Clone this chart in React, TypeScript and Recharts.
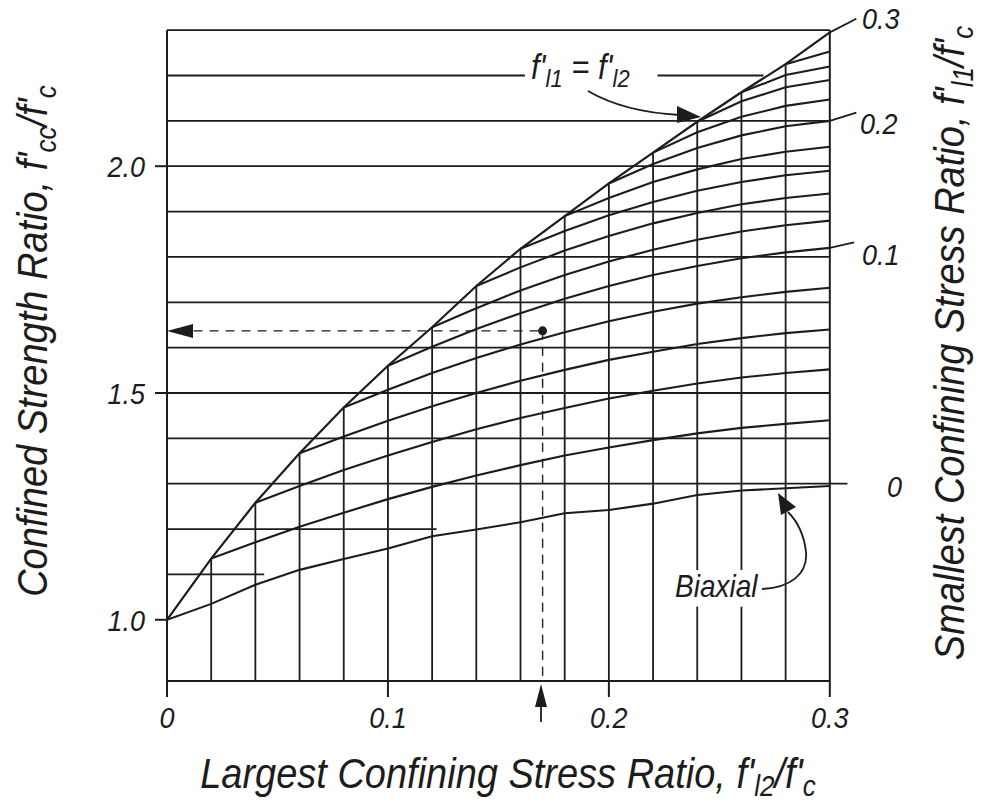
import React from 'react';
import { LineChart, Line, XAxis, YAxis, ReferenceLine, ReferenceDot } from 'recharts';

const FONT = '"Liberation Sans", Arial, Helvetica, sans-serif';
const INK = '#1c1c1c';
const STRETCH = 1.12;

// largest confining stress ratio f'l2/f'c at each vertical rule
const fl2 = [0, 0.02, 0.04, 0.06, 0.08, 0.1, 0.12, 0.14, 0.16, 0.18, 0.2, 0.22, 0.24, 0.26, 0.28, 0.3];

// f'l1 = f'l2 (triaxial, equal confinement)
const equalConfinement = [1.0, 1.135, 1.258, 1.367, 1.468, 1.56, 1.645, 1.736, 1.818, 1.89, 1.962, 2.03, 2.098, 2.163, 2.225, 2.295];
// f'l1 = 0
const biaxial = [1.0, 1.035, 1.077, 1.11, 1.134, 1.157, 1.184, 1.199, 1.215, 1.235, 1.242, 1.256, 1.275, 1.285, 1.29, 1.295];

// one curve per smallest confining stress ratio, each starting at f'l2 = f'l1
const fl1_002 = [1.135, 1.171, 1.205, 1.236, 1.266, 1.293, 1.318, 1.341, 1.362, 1.38, 1.396, 1.411, 1.423, 1.432, 1.44];
const fl1_004 = [1.258, 1.295, 1.33, 1.362, 1.392, 1.42, 1.445, 1.467, 1.488, 1.505, 1.521, 1.534, 1.544, 1.552];
const fl1_006 = [1.367, 1.404, 1.439, 1.471, 1.5, 1.527, 1.551, 1.573, 1.591, 1.608, 1.621, 1.632, 1.64];
const fl1_008 = [1.468, 1.507, 1.544, 1.577, 1.607, 1.634, 1.658, 1.679, 1.697, 1.711, 1.723, 1.732];
const fl1_010 = [1.56, 1.602, 1.641, 1.676, 1.708, 1.736, 1.76, 1.78, 1.797, 1.81, 1.82];
const fl1_012 = [1.645, 1.687, 1.726, 1.76, 1.79, 1.816, 1.838, 1.856, 1.87, 1.88];
const fl1_014 = [1.736, 1.777, 1.814, 1.846, 1.874, 1.897, 1.916, 1.93, 1.94];
const fl1_016 = [1.818, 1.857, 1.892, 1.921, 1.946, 1.965, 1.98, 1.99];
const fl1_018 = [1.89, 1.93, 1.965, 1.993, 2.016, 2.032, 2.043];
const fl1_020 = [1.962, 2.005, 2.04, 2.068, 2.088, 2.1];
const fl1_022 = [2.03, 2.075, 2.109, 2.133, 2.147];
const fl1_024 = [2.098, 2.143, 2.174, 2.19];
const fl1_026 = [2.163, 2.201, 2.22];
const fl1_028 = [2.225, 2.253];

const family = [biaxial, fl1_002, fl1_004, fl1_006, fl1_008, fl1_010, fl1_012, fl1_014, fl1_016, fl1_018, fl1_020, fl1_022, fl1_024, fl1_026, fl1_028];

// horizontal rules and where each one stops
const gridY = [1.1, 1.2, 1.3, 1.4, 1.5, 1.6, 1.7, 1.8, 1.9, 2.0, 2.1, 2.3];
const gridYEnd = [0.044, 0.122, 0.308, 0.3, 0.3, 0.3, 0.3, 0.3, 0.3, 0.3, 0.3, 0.3];
const base = 0.865;

const xTicks = [0, 0.1, 0.2, 0.3];
const yTicks = [1.0, 1.5, 2.0];

// example point
const exampleX = 0.17;
const exampleY = 1.637;

const envData = fl2.map((x, i) => ({ x, y: equalConfinement[i] }));
const curveData = family.map((vals, k) => vals.map((y, i) => ({ x: fl2[k + i], y })));

const seg = (x1: number, y1: number, x2: number, y2: number) => [{ x: x1, y: y1 }, { x: x2, y: y2 }];

const textStyle = { fontFamily: FONT, fontStyle: 'italic' as const, fill: INK };

const XTick = (props: any) => {
  const v = props.payload.value;
  return (
    <g transform={`translate(${props.x},${props.y})`}>
      <text transform={`scale(1,${STRETCH})`} textAnchor="middle" dy="0.71em" fontSize={27} style={textStyle}>
        {v === 0 ? '0' : v.toFixed(1)}
      </text>
    </g>
  );
};

const YTick = (props: any) => (
  <g transform={`translate(${props.x},${props.y})`}>
    <text transform={`scale(1,${STRETCH})`} textAnchor="end" dy="0.36em" fontSize={27} style={textStyle}>
      {props.payload.value.toFixed(1)}
    </text>
  </g>
);

function Overlay() {
  const s = `scale(1,${STRETCH})`;
  return (
    <svg width={982} height={807} style={{ position: 'absolute', left: 0, top: 0, pointerEvents: 'none' }}>
      <g style={textStyle}>
        <text transform={`translate(47,341) rotate(-90) ${s}`} textAnchor="middle" fontSize={38}>
          Confined Strength Ratio, f'<tspan fontSize={26} dy={8}>cc</tspan>
          <tspan dy={-8}>/f'</tspan>
          <tspan fontSize={26} dy={8}>c</tspan>
        </text>
        <text transform={`translate(964,343) rotate(-90) ${s}`} textAnchor="middle" fontSize={38}>
          Smallest Confining Stress Ratio, f'<tspan fontSize={26} dy={8}>l1</tspan>
          <tspan dy={-8}>/f'</tspan>
          <tspan fontSize={26} dy={8}>c</tspan>
        </text>
        <text transform={`translate(508,788) ${s}`} textAnchor="middle" fontSize={38}>
          Largest Confining Stress Ratio, f'<tspan fontSize={26} dy={7}>l2</tspan>
          <tspan dy={-7}>/f'</tspan>
          <tspan fontSize={26} dy={7}>c</tspan>
        </text>
        <text transform={`translate(862,29) ${s}`} fontSize={27}>0.3</text>
        <text transform={`translate(860,134) ${s}`} fontSize={27}>0.2</text>
        <text transform={`translate(862,265) ${s}`} fontSize={27}>0.1</text>
        <text transform={`translate(887,497) ${s}`} fontSize={27}>0</text>
        <text transform={`translate(531,79) ${s}`} fontSize={31}>
          f'<tspan fontSize={22} dy={7}>l1</tspan>
          <tspan dy={-7}> = f'</tspan>
          <tspan fontSize={22} dy={7}>l2</tspan>
        </text>
        <text transform={`translate(675,597) ${s}`} fontSize={28}>Biaxial</text>
      </g>
      <g stroke={INK} strokeWidth={1.8} fill="none">
        <path d="M588,91 C612,105 642,113 680,115" />
        <path d="M762,589 C790,588 808,574 806,552 C804,534 796,520 788,512" />
        <line x1={541} y1={706} x2={541} y2={722} />
      </g>
      <g fill={INK}>
        <polygon points="701,117 677,106 677,123" />
        <polygon points="778,493 781,515 796,507" />
        <polygon points="167,331 193,324 193,338" />
        <polygon points="541,684 535,707 547,707" />
      </g>
    </svg>
  );
}

export default function App() {
  return (
    <div style={{ position: 'absolute', left: 0, top: 0, width: 982, height: 807, background: '#fff' }}>
      <LineChart width={982} height={807} margin={{ top: 12, right: 108, bottom: 86, left: 87 }}>
        <XAxis
          dataKey="x"
          type="number"
          domain={[0, 0.32]}
          allowDataOverflow
          ticks={xTicks}
          interval={0}
          axisLine={false}
          tickLine={{ stroke: INK, strokeWidth: 2 }}
          tickSize={16}
          tickMargin={10}
          height={40}
          tick={<XTick />}
        />
        <YAxis
          type="number"
          domain={[base, 2.34]}
          allowDataOverflow
          ticks={yTicks}
          interval={0}
          axisLine={false}
          tickLine={{ stroke: INK, strokeWidth: 2 }}
          tickSize={12}
          tickMargin={10}
          width={80}
          tick={<YTick />}
        />

        {/* frame */}
        <ReferenceLine segment={seg(0, base, 0, 2.3)} stroke={INK} strokeWidth={2} />
        <ReferenceLine segment={seg(0.3, base, 0.3, 2.3)} stroke={INK} strokeWidth={2} />
        <ReferenceLine segment={seg(0, base, 0.3, base)} stroke={INK} strokeWidth={2} />

        {/* horizontal rules */}
        {gridY.map((y, i) => (
          <ReferenceLine key={'h' + y} segment={seg(0, y, gridYEnd[i], y)} stroke={INK} strokeWidth={1.8} />
        ))}
        <ReferenceLine segment={seg(0, 2.2, 0.162, 2.2)} stroke={INK} strokeWidth={1.8} />
        <ReferenceLine segment={seg(0.222, 2.2, 0.27, 2.2)} stroke={INK} strokeWidth={1.8} />

        {/* vertical rules up to the equal-confinement curve, broken around the Biaxial label */}
        {fl2.slice(1, 15).map((x, i) =>
          i === 11 || i === 12 ? (
            <React.Fragment key={'v' + x}>
              <ReferenceLine segment={seg(x, base, x, 1.029)} stroke={INK} strokeWidth={1.8} />
              <ReferenceLine segment={seg(x, 1.11, x, equalConfinement[i + 1])} stroke={INK} strokeWidth={1.8} />
            </React.Fragment>
          ) : (
            <ReferenceLine key={'v' + x} segment={seg(x, base, x, equalConfinement[i + 1])} stroke={INK} strokeWidth={1.8} />
          )
        )}

        {/* leaders to the right-hand labels */}
        <ReferenceLine segment={seg(0.3, 1.82, 0.311, 1.832)} stroke={INK} strokeWidth={1.8} />
        <ReferenceLine segment={seg(0.3, 2.1, 0.312, 2.118)} stroke={INK} strokeWidth={1.8} />
        <ReferenceLine segment={seg(0.3, 2.295, 0.312, 2.325)} stroke={INK} strokeWidth={1.8} />

        {/* worked example */}
        <ReferenceLine segment={seg(0.012, exampleY, exampleX, exampleY)} stroke={INK} strokeWidth={1.4} strokeDasharray="9 7" />
        <ReferenceLine segment={seg(exampleX, exampleY, exampleX, base)} stroke={INK} strokeWidth={1.4} strokeDasharray="9 7" />
        <ReferenceDot x={exampleX} y={exampleY} r={4.5} fill={INK} stroke="none" />

        <Line data={envData} dataKey="y" type="linear" dot={false} stroke={INK} strokeWidth={2.2} isAnimationActive={false} />
        {curveData.map((d, k) => (
          <Line key={'c' + k} data={d} dataKey="y" type="linear" dot={false} stroke={INK} strokeWidth={2.1} isAnimationActive={false} />
        ))}
      </LineChart>
      <Overlay />
    </div>
  );
}
